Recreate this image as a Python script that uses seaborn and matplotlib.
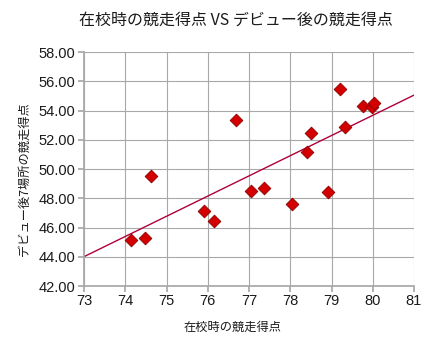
import matplotlib
matplotlib.use("Agg")
import matplotlib.pyplot as plt
from matplotlib.ticker import FormatStrFormatter, MultipleLocator
import seaborn as sns
import pandas as pd

# 在校時の競走得点 と デビュー後7場所の競走得点
school_score = [74.13, 74.47, 74.63, 75.90, 76.15, 76.69, 77.04, 77.36, 78.04,
                78.41, 78.50, 78.92, 79.21, 79.33, 79.76, 79.98, 80.04]
debut_score = [45.13, 45.29, 49.53, 47.14, 46.43, 53.35, 48.50, 48.67, 47.60,
               51.18, 52.48, 48.44, 55.45, 52.87, 54.33, 54.26, 54.53]

title = "在校時の競走得点 VS デビュー後の競走得点"
xlabel = "在校時の競走得点"
ylabel = "デビュー後7場所の競走得点"

df = pd.DataFrame({"school": school_score, "debut": debut_score})

sns.set_theme(style="whitegrid")
plt.rcParams["font.family"] = ["Liberation Sans", "Noto Sans CJK JP", "DejaVu Sans"]
cjk = ["Noto Sans CJK JP", "DejaVu Sans"]

W, H = 438, 341
fig = plt.figure(figsize=(W / 100, H / 100), dpi=100)
ax = fig.add_axes([84 / W, 1 - 286 / H, 330 / W, 234 / H])

# axis range first so the trend line spans the full width
ax.set_xlim(73, 81)
ax.set_ylim(42, 58)

sns.regplot(data=df, x="school", y="debut", ax=ax, ci=None, truncate=False,
            scatter=False, line_kws={"color": "#b0003a", "linewidth": 1.0})
sns.scatterplot(data=df, x="school", y="debut", ax=ax, marker="D", s=42,
                color="#d40000", edgecolor="#8a0000", linewidth=0.6, zorder=3)

ax.set_xlim(73, 81)
ax.set_ylim(42, 58)
ax.xaxis.set_major_locator(MultipleLocator(1))
ax.yaxis.set_major_locator(MultipleLocator(2))
ax.yaxis.set_major_formatter(FormatStrFormatter("%.2f"))

ax.grid(True, color="#a8a8a8", linewidth=0.8)
for s in ax.spines.values():
    s.set_visible(False)
ax.spines["left"].set_visible(True)
ax.spines["bottom"].set_visible(True)
ax.spines["left"].set_color("#a8a8a8")
ax.spines["bottom"].set_color("#a8a8a8")
ax.tick_params(axis="both", which="both", length=4, color="#a8a8a8",
               labelsize=10.5, labelcolor="#1a1a1a", pad=2, direction="out",
               left=True, bottom=True)

ax.set_xlabel("")
ax.set_ylabel("")
fig.text(233 / W, 1 - 327 / H, xlabel, ha="center", va="center",
         fontsize=8.8, color="#1a1a1a", family=cjk)
fig.text(24 / W, 1 - 179 / H, ylabel, ha="center", va="center",
         rotation=90, fontsize=8.8, color="#1a1a1a", family=cjk)
fig.text(236 / W, 1 - 20 / H, title, ha="center", va="center", fontsize=11.5,
         color="#1a1a1a", family=cjk)

fig.savefig("out.png", dpi=100, facecolor="white")
